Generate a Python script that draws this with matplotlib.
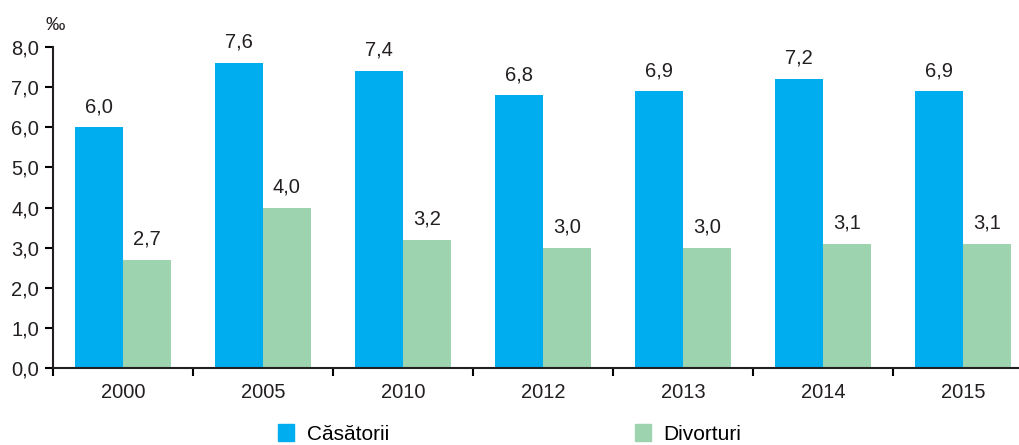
import matplotlib.pyplot as plt
from matplotlib.patches import Patch
import numpy as np

plt.rcParams['font.family'] = ['Liberation Sans', 'DejaVu Sans']

years = ['2000', '2005', '2010', '2012', '2013', '2014', '2015']
casatorii = [6.0, 7.6, 7.4, 6.8, 6.9, 7.2, 6.9]
divorturi = [2.7, 4.0, 3.2, 3.0, 3.0, 3.1, 3.1]

blue = '#00AEEF'
green = '#9DD3AE'

fig = plt.figure(figsize=(10.19, 4.45), dpi=100)
ax = fig.add_axes([53/1019, 77/445, 980/1019, 321/445])

x = np.arange(len(years))
w = 0.34
b1 = ax.bar(x - w/2, casatorii, w, color=blue)
b2 = ax.bar(x + w/2, divorturi, w, color=green)

def fmt(v):
    return ('%.1f' % v).replace('.', ',')

for bars, vals in ((b1, casatorii), (b2, divorturi)):
    for r, v in zip(bars, vals):
        ax.annotate(fmt(v), (r.get_x() + r.get_width()/2, v), xytext=(0, 8),
                    textcoords='offset points', ha='center', va='bottom',
                    fontsize=14.5, color='#231f20')

ax.set_xlim(-0.5, len(years) - 0.5)
ax.set_ylim(0, 8)
yt = np.arange(0, 9)
ax.set_yticks(yt)
ax.set_yticklabels([fmt(v) for v in yt], fontsize=14.5, color='#231f20')
ax.set_xticks(x)
ax.set_xticklabels(years, fontsize=14.5, color='#231f20')
ax.set_xticks(np.arange(-0.5, len(years)), minor=True)
ax.tick_params(axis='x', which='major', length=0, pad=11)
ax.tick_params(axis='x', which='minor', length=6, width=1.5, direction='out')
ax.tick_params(axis='y', length=6, width=1.5, direction='out', pad=4)

for s in ('top', 'right'):
    ax.spines[s].set_visible(False)
for s in ('left', 'bottom'):
    ax.spines[s].set_linewidth(1.5)
    ax.spines[s].set_color('#231f20')

fig.text(55/1019, 1 - 26/445, '‰', fontsize=14, va='center', ha='center', color='#231f20')

handles = [Patch(color=blue, label='Căsătorii'), Patch(color=green, label='Divorturi')]
fig.legend(handles=handles, loc='center', bbox_to_anchor=(0.5, 0.025), ncol=2,
           frameon=False, fontsize=15, handlelength=0.77, handleheight=0.85,
           handletextpad=0.6, columnspacing=11.8, borderpad=0)

fig.savefig('out.png', dpi=100)
